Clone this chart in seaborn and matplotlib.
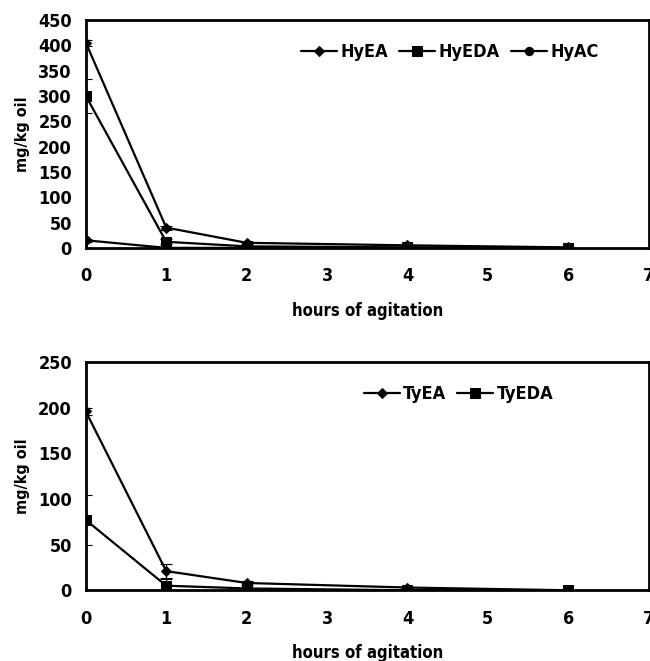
import matplotlib
matplotlib.use("Agg")
import matplotlib.pyplot as plt
import numpy as np
import pandas as pd
import seaborn as sns

hours = [0, 1, 2, 4, 6]

hy_names = ["HyEA", "HyEDA", "HyAC"]
hy_ea = [405, 40, 10, 5, 1]
hy_eda = [300, 12, 3, 1, 0]
hy_ac = [15, 0, 0, 0, 0]
hy_ea_err = [6, 4, 2, 1, 0]
hy_eda_err = [33, 5, 1, 0, 0]
hy_ac_err = [3, 0, 0, 0, 0]

ty_names = ["TyEA", "TyEDA"]
ty_ea = [196, 21, 8, 3, 0]
ty_eda = [77, 5, 2, 0, 0]
ty_ea_err = [4, 8, 2, 1, 0]
ty_eda_err = [27, 7, 1, 0, 0]

markers = {"HyEA": "D", "HyEDA": "s", "HyAC": "o", "TyEA": "D", "TyEDA": "s"}
msizes = {"D": 5, "s": 7, "o": 6}

sns.set_style("white")
plt.rcParams["font.family"] = ["DejaVu Sans"]
plt.rcParams["font.stretch"] = "condensed"
plt.rcParams["font.weight"] = "bold"
plt.rcParams["text.color"] = "black"
plt.rcParams["axes.labelcolor"] = "black"
plt.rcParams["xtick.color"] = "black"
plt.rcParams["ytick.color"] = "black"


def long_table(names, series):
    rows = []
    for n, vals in zip(names, series):
        for h, v in zip(hours, vals):
            rows.append({"hours": h, "value": v, "series": n})
    return pd.DataFrame(rows)


def panel(ax, names, series, errs, ymax, ystep, leg_x, leg_y):
    df = long_table(names, series)
    for n in names:
        m = markers[n]
        sns.lineplot(data=df[df.series == n], x="hours", y="value", color="black",
                     marker=m, markersize=msizes[m], markeredgecolor="black",
                     linewidth=1.6, label=n, ax=ax, zorder=3)
    for vals, e in zip(series, errs):
        ax.errorbar(hours, vals, yerr=e, fmt="none", ecolor="black",
                    elinewidth=0.8, capsize=4, capthick=0.8, zorder=2)
    ax.set_xlim(0, 7)
    ax.set_ylim(0, ymax)
    ax.set_xticks(range(8))
    ax.set_yticks(np.arange(0, ymax + 1, ystep))
    ax.tick_params(axis="both", direction="out", length=4, width=1.2,
                   labelsize=13, pad=6)
    ax.tick_params(axis="x", pad=10)
    for lab in ax.get_xticklabels() + ax.get_yticklabels():
        lab.set_fontweight("bold")
    for s in ax.spines.values():
        s.set_color("black")
        s.set_linewidth(2)
    ax.set_ylabel("mg/kg oil", fontsize=11.5, fontweight="bold", labelpad=6)
    ax.set_xlabel("hours of agitation", fontsize=12, fontweight="bold", labelpad=12)
    ax.legend(loc="upper right", bbox_to_anchor=(leg_x, leg_y), ncol=len(names),
              frameon=False, handlelength=2.0, handletextpad=0.2,
              columnspacing=0.6, prop={"size": 13, "weight": "bold", "stretch": "condensed"})


fig = plt.figure(figsize=(6.5, 6.61), dpi=100)
ax1 = fig.add_axes([0.132, 0.625, 0.866, 0.345])
ax2 = fig.add_axes([0.132, 0.107, 0.866, 0.345])

panel(ax1, hy_names, [hy_ea, hy_eda, hy_ac], [hy_ea_err, hy_eda_err, hy_ac_err],
      450, 50, 0.94, 0.97)
panel(ax2, ty_names, [ty_ea, ty_eda], [ty_ea_err, ty_eda_err], 250, 50, 0.86, 0.97)

fig.savefig("out.png", dpi=100)
